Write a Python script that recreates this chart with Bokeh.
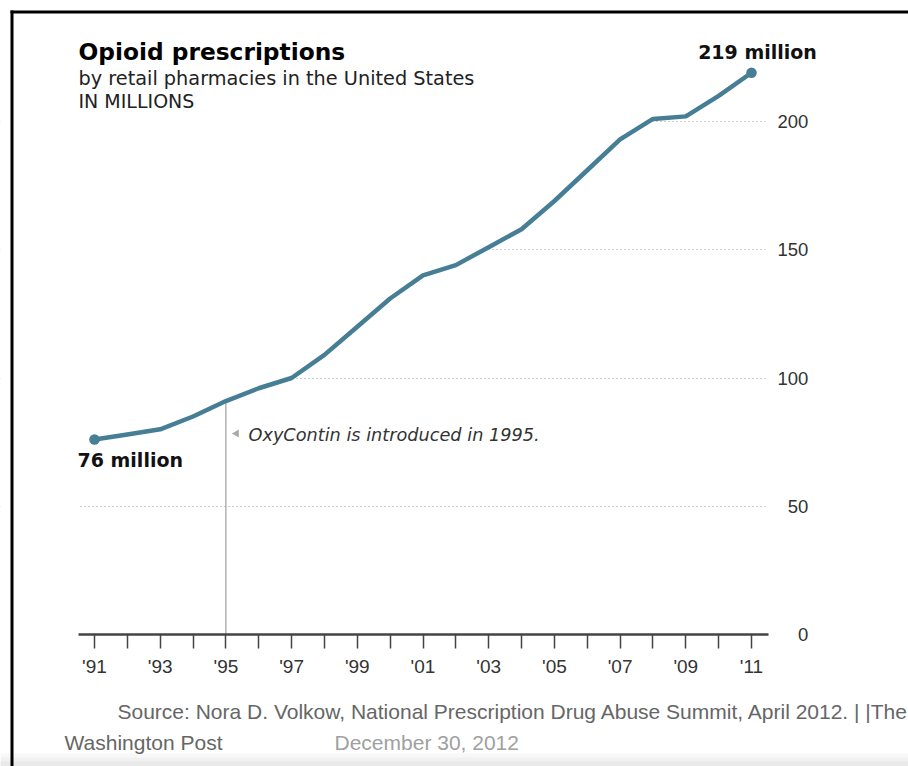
from bokeh.plotting import figure
from bokeh.models import Range1d, FixedTicker, Label
from bokeh.embed import file_html
from bokeh.resources import INLINE

# ---- data ----
years = list(range(1991, 2012))
prescriptions = [76, 78, 80, 85, 91, 96, 100, 109, 120, 131, 140, 144, 151,
                 158, 169, 181, 193, 201, 202, 210, 219]
y_ticks = [0, 50, 100, 150, 200]
grid_ticks = [50, 100, 150, 200]
x_tick_labels = {yr: ("'%02d" % (yr % 100) if yr % 2 == 1 else "") for yr in years}
FS = "\u2007"
y_tick_labels = {t: FS * (3 - len(str(t))) + str(t) for t in y_ticks}
oxy_year = 1995

title_text = "Opioid prescriptions"
subtitle_text = "by retail pharmacies in the United States"
units_text = "IN MILLIONS"
start_label = "76 million"
end_label = "219 million"
note_text = "OxyContin is introduced in 1995."
source_text = "Source: Nora D. Volkow, National Prescription Drug Abuse Summit, April 2012. | |The"
credit_text = "Washington Post"
date_text = "December 30, 2012"

# ---- page-pixel to data mapping (the frame fills the whole canvas) ----
W, H = 908, 766
PX_X = 32.85      # px per year
PX_Y = 2.565      # px per million


def dx(px):
    return 1991 + (px - 94) / PX_X


def dy(py):
    return (634 - py) / PX_Y


X0, X1 = dx(0), dx(W)
Y0, Y1 = dy(H), dy(0)
AX_L, AX_R = dx(78), dx(768)     # extent of the x axis line
GRID_R = dx(765)

LINE_COLOR = "#467e95"
FONT = "Liberation Sans"
HEAD = "DejaVu Sans"

p = figure(width=W, height=H, x_range=Range1d(X0, X1), y_range=Range1d(Y0, Y1),
           y_axis_location="right", toolbar_location=None, output_backend="svg",
           min_border=0)
p.outline_line_color = None
p.background_fill_color = "white"
p.border_fill_color = "white"

p.xgrid.visible = False
p.ygrid.ticker = FixedTicker(ticks=grid_ticks)
p.ygrid.grid_line_color = "#9a9a9a"
p.ygrid.grid_line_dash = "1 3"
p.ygrid.grid_line_width = 1

xa = p.xaxis[0]
xa.fixed_location = 0
xa.bounds = (AX_L, AX_R)
xa.ticker = FixedTicker(ticks=years)
xa.major_label_overrides = x_tick_labels
xa.major_tick_out = 14
xa.major_tick_in = 0
xa.minor_tick_line_color = None
xa.axis_line_color = "#444444"
xa.axis_line_width = 2.5
xa.major_tick_line_color = "#444444"
xa.major_tick_line_width = 1.5
xa.major_label_standoff = 7
xa.major_label_text_font = FONT
xa.major_label_text_font_size = "19px"
xa.major_label_text_color = "#333333"

ya = p.yaxis[0]
ya.fixed_location = AX_R
ya.bounds = (0, 200)
ya.ticker = FixedTicker(ticks=y_ticks)
ya.major_label_overrides = y_tick_labels
ya.axis_line_color = None
ya.major_tick_line_color = None
ya.major_tick_out = 0
ya.major_tick_in = 0
ya.minor_tick_line_color = None
ya.major_label_standoff = 9
ya.major_label_text_font = FONT
ya.major_label_text_font_size = "18.5px"
ya.major_label_text_color = "#333333"

# white masks: above the series, and beside the axis extent (hide grid there)
mask_x = [AX_L] + years + [GRID_R]
mask_y = [prescriptions[0]] + prescriptions + [prescriptions[-1]]
p.varea(x=mask_x, y1=mask_y, y2=[Y1] * len(mask_x), fill_color="white")
p.quad(left=[X0, GRID_R], right=[AX_L, X1], bottom=[Y0, Y0], top=[Y1, Y1],
       fill_color="white", line_color=None)

# bottom shading of the page
shade_tops = [753, 757, 761]
shade_colors = ["#f8f8f8", "#f1f1f1", "#e9e9e9"]
p.quad(left=[X0] * 3, right=[X1] * 3, bottom=[Y0] * 3, top=[dy(t) for t in shade_tops],
       fill_color=shade_colors, line_color=None)
# page border
p.segment(x0=[dx(11.5), dx(10)], y0=[dy(10), dy(11.5)],
          x1=[dx(11.5), X1], y1=[Y0, dy(11.5)], line_color="black", line_width=3)

# OxyContin marker line
oxy_val = prescriptions[years.index(oxy_year)]
p.segment(x0=[oxy_year], y0=[0], x1=[oxy_year], y1=[oxy_val], line_color="#8a8a8a", line_width=1)

p.line(years, prescriptions, line_width=4.5, line_color=LINE_COLOR, line_join="round", line_cap="round")
p.scatter([years[0], years[-1]], [prescriptions[0], prescriptions[-1]], size=10.5,
          fill_color=LINE_COLOR, line_color=None)

# small arrow of the note
p.scatter([dx(236)], [dy(433)], marker="triangle", angle=1.5708, size=8,
          fill_color="#aaaaaa", line_color=None)

TEXT_SHIFT = 6.5   # labels render a little lower than the nominal baseline


def lab(text, px, py, size, style="normal", color="#111111", align="left",
        font=FONT):
    p.add_layout(Label(x=dx(px), y=dy(py - TEXT_SHIFT), text=text, text_font=font,
                       text_font_size=size, text_font_style=style, text_color=color,
                       text_align=align, text_baseline="alphabetic"))


lab(title_text, 78, 57, "23.3px", "bold", "#000000", font=HEAD)
lab(subtitle_text, 78, 84, "19.3px", color="#222222", font=HEAD)
lab(units_text, 78, 107, "19px", color="#222222", font=HEAD)
lab(end_label, 757, 58, "19px", "bold", "#111111", align="center", font=HEAD)
lab(start_label, 77, 466, "19px", "bold", "#111111", font=HEAD)
lab(note_text, 248, 441, "17.7px", "italic", "#333333", font=HEAD)
lab(source_text, 117, 717, "21px", color="#666666", font=FONT)
lab(credit_text, 64, 748, "21px", color="#666666", font=FONT)
lab(date_text, 334, 748, "21px", color="#a0a0a0", font=FONT)

open("out.html", "w").write(file_html(p, INLINE))
